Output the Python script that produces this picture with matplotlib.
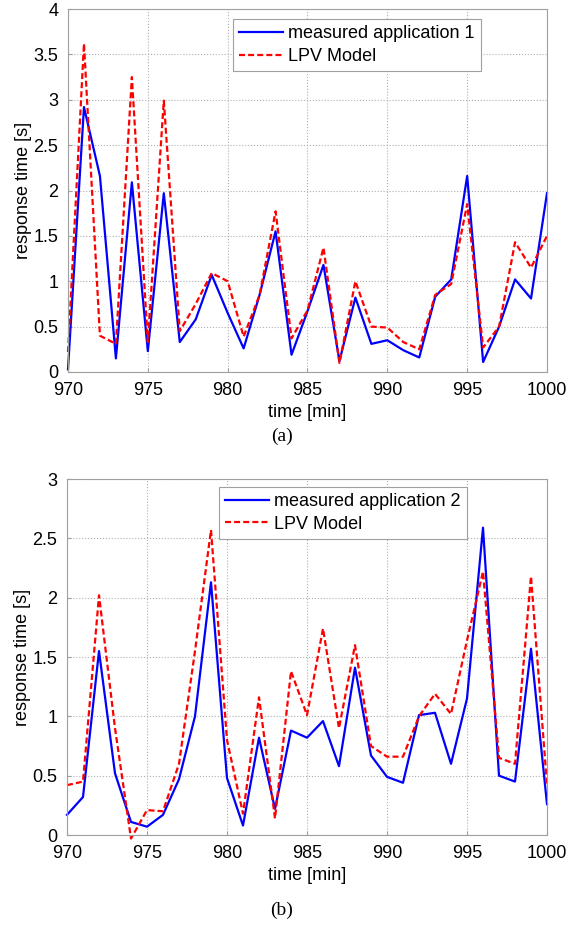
import numpy as np
import matplotlib.pyplot as plt

plt.rcParams['font.family'] = ['Liberation Sans', 'DejaVu Sans']

t = np.arange(970, 1001)

# application 1
mesure_1 = [0.03, 2.92, 2.16, 0.15, 2.09, 0.23, 1.97, 0.33, 0.58, 1.07,
            0.65, 0.26, 0.85, 1.55, 0.19, 0.67, 1.18, 0.12, 0.82, 0.31,
            0.35, 0.24, 0.16, 0.83, 1.02, 2.16, 0.11, 0.50, 1.02, 0.81, 1.97]
lpv_1 = [0.22, 3.62, 0.40, 0.31, 3.25, 0.33, 2.99, 0.45, 0.75, 1.09,
         1.00, 0.39, 0.85, 1.77, 0.37, 0.68, 1.37, 0.10, 1.00, 0.50,
         0.49, 0.33, 0.25, 0.85, 0.97, 1.85, 0.27, 0.50, 1.43, 1.15, 1.50]

# application 2
mesure_2 = [0.17, 0.32, 1.55, 0.52, 0.11, 0.07, 0.17, 0.47, 1.00, 2.13,
            0.48, 0.08, 0.82, 0.22, 0.88, 0.82, 0.96, 0.58, 1.41, 0.67,
            0.49, 0.44, 1.01, 1.03, 0.60, 1.15, 2.59, 0.50, 0.45, 1.57, 0.26]
lpv_2 = [0.42, 0.45, 2.02, 0.90, -0.03, 0.21, 0.20, 0.60, 1.55, 2.57,
         0.80, 0.18, 1.16, 0.14, 1.38, 1.01, 1.74, 0.90, 1.60, 0.75,
         0.66, 0.66, 1.00, 1.19, 1.02, 1.64, 2.22, 0.65, 0.60, 2.18, 0.42]

W, H = 582, 925
fig = plt.figure(figsize=(W / 100, H / 100), dpi=100)


def tracer(rect, mesure, lpv, nom, ymax, leg_anchor):
	ax = fig.add_axes(rect)
	ax.plot(t, mesure, color='#0000ff', lw=1.6, label=nom, clip_on=False)
	ax.plot(t, lpv, color='#ff0000', lw=1.6, ls=(0, (2.7, 1.4)), label='LPV Model',
	        clip_on=False)
	ax.set_xlim(970, 1000)
	ax.set_ylim(0, ymax)
	ax.set_xticks(np.arange(970, 1001, 5))
	yt = np.arange(0, ymax + 0.01, 0.5)
	ax.set_yticks(yt)
	ax.set_yticklabels(['{:g}'.format(v) for v in yt])
	ax.grid(True, color='#b0b0b0', ls=':', lw=0.8)
	for s in ax.spines.values():
		s.set_color('#a0a0a0')
		s.set_linewidth(0.8)
	ax.tick_params(direction='in', length=3, color='#a0a0a0', labelsize=13, pad=7)
	ax.set_xlabel('time [min]', fontsize=13, labelpad=4)
	ax.set_ylabel('response time [s]', fontsize=13, labelpad=1)
	leg = ax.legend(loc='upper right', bbox_to_anchor=leg_anchor, fontsize=13,
	                handlelength=2.4, borderpad=0.35, labelspacing=0.3,
	                handletextpad=0.3, borderaxespad=0, fancybox=False,
	                framealpha=1)
	leg.get_frame().set_edgecolor('#a0a0a0')
	leg.get_frame().set_linewidth(0.8)
	return ax


tracer([68 / W, 1 - 372 / H, 479 / W, 363 / H], mesure_1, lpv_1,
       'measured application 1', 4, (0.862, 0.972))
tracer([67 / W, 1 - 835 / H, 480 / W, 356 / H], mesure_2, lpv_2,
       'measured application 2', 3, (0.833, 0.978))

fig.text(282 / W, 1 - 436 / H, '(a)', fontsize=14, family='Liberation Serif',
         ha='center', va='center')
fig.text(282 / W, 1 - 910 / H, '(b)', fontsize=14, family='Liberation Serif',
         ha='center', va='center')

fig.savefig('out.png', dpi=100)
